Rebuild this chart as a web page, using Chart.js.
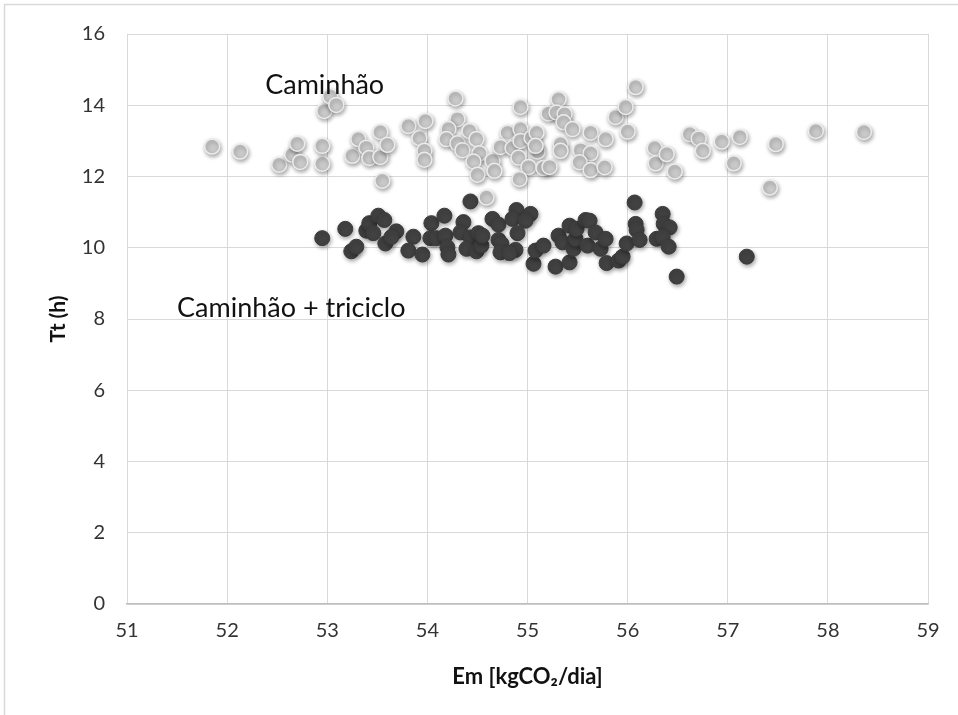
<!DOCTYPE html>
<html>
<head>
<meta charset="utf-8">
<script src="https://cdn.jsdelivr.net/npm/chart.js@4"></script>
<style>
  html, body { margin: 0; padding: 0; background: #fff; }
  #wrap { position: relative; width: 958px; height: 715px; }
</style>
</head>
<body>
<div id="wrap"><canvas id="c" width="958" height="715"></canvas></div>
<script>
// ---- data ----
const camX = [51.85,52.13,52.52,52.65,52.70,52.73,52.95,52.95,52.97,53.03,53.09,53.25,53.31,53.39,53.42,53.53,53.53,53.60,53.55,53.81,53.92,53.98,53.97,53.97,54.28,54.30,54.21,54.19,54.30,54.35,54.42,54.49,54.52,54.46,54.50,54.65,54.67,54.59,54.93,54.80,54.93,54.73,54.85,54.93,55.04,55.09,55.10,55.08,54.91,55.01,54.92,55.16,55.22,55.21,55.31,55.29,55.37,55.36,55.45,55.33,55.33,55.53,55.63,55.63,55.52,55.63,55.78,55.77,55.88,55.98,56.00,56.08,56.27,56.28,56.39,56.47,56.62,56.71,56.75,56.94,57.12,57.06,57.48,57.42,57.88,58.36];
const camY = [12.84,12.70,12.33,12.61,12.92,12.41,12.36,12.86,13.84,14.25,14.01,12.58,13.05,12.81,12.52,13.25,12.55,12.89,11.88,13.42,13.08,13.56,12.72,12.47,14.19,13.61,13.33,13.05,12.93,12.74,13.28,13.05,12.65,12.42,12.05,12.44,12.16,11.41,13.95,13.23,13.33,12.83,12.80,13.00,13.09,13.23,12.70,12.86,12.53,12.27,11.93,12.24,12.27,13.77,14.17,13.80,13.75,13.52,13.33,12.91,12.72,12.74,13.23,12.65,12.40,12.18,13.05,12.26,13.67,13.95,13.26,14.51,12.80,12.37,12.63,12.14,13.19,13.07,12.72,12.98,13.11,12.37,12.91,11.69,13.28,13.25];
const triX = [52.95,53.18,53.24,53.29,53.39,53.42,53.51,53.57,53.46,53.58,53.69,53.64,53.86,53.81,53.95,54.04,54.17,54.03,54.09,54.18,54.20,54.21,54.36,54.43,54.33,54.43,54.51,54.39,54.49,54.54,54.65,54.71,54.89,55.03,54.85,54.98,54.90,54.55,54.71,54.74,54.73,54.88,54.82,55.06,55.08,55.16,55.28,55.31,55.35,55.42,55.42,55.46,55.48,55.49,55.58,55.62,55.60,55.68,55.73,55.78,55.79,55.91,55.95,55.99,56.07,56.08,56.09,56.12,56.29,56.35,56.36,56.42,56.35,56.41,56.49,57.19];
const triY = [10.27,10.53,9.90,10.03,10.48,10.69,10.90,10.78,10.41,10.12,10.46,10.30,10.31,9.92,9.81,10.69,10.90,10.27,10.27,10.34,10.01,9.81,10.72,11.30,10.43,10.29,10.41,9.97,9.90,10.06,10.81,10.65,11.06,10.95,10.81,10.76,10.41,10.34,10.22,10.11,9.87,9.94,9.85,9.55,9.92,10.06,9.47,10.34,10.15,10.62,9.59,9.97,10.25,10.53,10.78,10.76,10.06,10.43,9.97,10.25,9.57,9.64,9.75,10.12,11.27,10.67,10.50,10.22,10.25,10.95,10.67,10.57,10.30,10.03,9.19,9.75];
const seriesNames = ['Caminhão', 'Caminhão + triciclo'];
const labelPos = [[52.38, 14.57], [51.50, 8.29]];
const xTitle = 'Em [kgCO₂/dia]';
const yTitle = 'Tt (h)';

const FONT = "Lato, 'Noto Sans', sans-serif";

const shadowPlugin = {
  id: 'shadow',
  beforeDatasetsDraw(chart) {
    const ctx = chart.ctx;
    ctx.save();
    ctx.shadowColor = 'rgba(0,0,0,0.35)';
    ctx.shadowBlur = 4;
    ctx.shadowOffsetX = 1;
    ctx.shadowOffsetY = 2;
  },
  afterDatasetsDraw(chart) { chart.ctx.restore(); }
};

const decorPlugin = {
  id: 'decor',
  beforeDraw(chart) {
    const ctx = chart.ctx;
    ctx.save();
    ctx.strokeStyle = '#d9d9d9';
    ctx.lineWidth = 1.5;
    ctx.beginPath();
    ctx.moveTo(4.5, 715);
    ctx.lineTo(4.5, 4.5);
    ctx.lineTo(958, 4.5);
    ctx.stroke();
    ctx.restore();
  },
  afterDraw(chart) {
    const ctx = chart.ctx;
    const xs = chart.scales.x, ys = chart.scales.y;
    ctx.save();
    ctx.fillStyle = '#111';
    ctx.font = "27px " + FONT;
    ctx.textBaseline = 'middle';
    ctx.textAlign = 'left';
    seriesNames.forEach((n, i) => {
      ctx.fillText(n, xs.getPixelForValue(labelPos[i][0]), ys.getPixelForValue(labelPos[i][1]));
    });
    ctx.restore();
  }
};

new Chart(document.getElementById('c'), {
  type: 'scatter',
  data: {
    datasets: [
      {
        label: seriesNames[0],
        data: camX.map((x, i) => ({ x, y: camY[i] })),
        backgroundColor: '#c9c9c9',
        borderColor: '#ececec',
        borderWidth: 1.5,
        pointRadius: 7.5,
        pointHoverRadius: 7.5
      },
      {
        label: seriesNames[1],
        data: triX.map((x, i) => ({ x, y: triY[i] })),
        backgroundColor: '#424242',
        borderColor: '#3a3a3a',
        borderWidth: 1,
        pointRadius: 7.5,
        pointHoverRadius: 7.5
      }
    ]
  },
  options: {
    responsive: false,
    animation: false,
    events: [],
    layout: { padding: { top: 33, right: 30, left: 0, bottom: 0 } },
    plugins: { legend: { display: false }, tooltip: { enabled: false } },
    scales: {
      x: {
        type: 'linear', min: 51, max: 59,
        ticks: { stepSize: 1, color: '#333', font: { family: FONT, size: 20 }, padding: 15 },
        grid: { color: '#d9d9d9', lineWidth: 1, drawTicks: false },
        border: { display: true, color: '#bfbfbf', width: 1.5 },
        title: { display: true, text: xTitle, color: '#111', font: { family: FONT, size: 22, weight: 'bold' }, padding: { bottom: 25 } },
        afterFit(s) { s.height = 111; }
      },
      y: {
        type: 'linear', min: 0, max: 16,
        ticks: { stepSize: 2, color: '#333', font: { family: FONT, size: 20 }, padding: 22 },
        grid: { color: '#d9d9d9', lineWidth: 1, drawTicks: false },
        border: { display: false },
        title: { display: true, text: yTitle, color: '#111', font: { family: FONT, size: 21, weight: 'bold' }, padding: { top: 46 } },
        afterFit(s) { s.width = 127; }
      }
    }
  },
  plugins: [shadowPlugin, decorPlugin]
});
</script>
</body>
</html>
